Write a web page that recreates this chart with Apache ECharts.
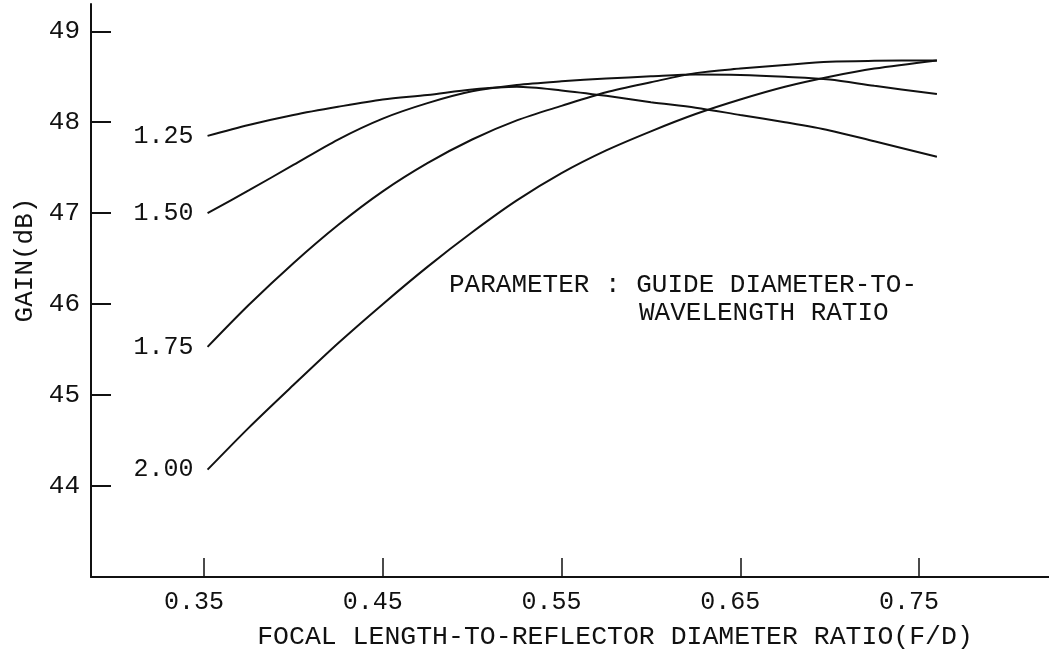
<!DOCTYPE html>
<html>
<head>
<meta charset="utf-8">
<script src="https://cdn.jsdelivr.net/npm/echarts@6/dist/echarts.min.js"></script>
<style>
html,body{margin:0;padding:0;background:#fff;}
#chart{width:1049px;height:653px;}
</style>
</head>
<body>
<div id="chart"></div>
<script>
// F/D ratio sample positions
const fdRatio = [0.352, 0.375, 0.40, 0.425, 0.45, 0.475, 0.50, 0.525, 0.55, 0.575, 0.60, 0.625, 0.65, 0.675, 0.70, 0.725, 0.76];
// Gain (dB) per guide diameter-to-wavelength ratio
const gain125 = [47.85, 47.97, 48.08, 48.17, 48.25, 48.30, 48.36, 48.39, 48.35, 48.29, 48.22, 48.16, 48.08, 48.00, 47.91, 47.79, 47.62];
const gain150 = [47.00, 47.25, 47.53, 47.81, 48.04, 48.21, 48.34, 48.41, 48.45, 48.48, 48.505, 48.525, 48.52, 48.50, 48.47, 48.40, 48.31];
const gain175 = [45.53, 45.99, 46.45, 46.87, 47.24, 47.55, 47.81, 48.02, 48.18, 48.33, 48.44, 48.54, 48.59, 48.63, 48.665, 48.675, 48.68];
const gain200 = [44.18, 44.64, 45.11, 45.57, 46.00, 46.41, 46.79, 47.14, 47.44, 47.69, 47.90, 48.09, 48.25, 48.39, 48.50, 48.59, 48.68];
const seriesNames = ['1.25', '1.50', '1.75', '2.00'];
const xTicks = [0.35, 0.45, 0.55, 0.65, 0.75];
const yTicks = [44, 45, 46, 47, 48, 49];

const FONT = '"Liberation Mono", "DejaVu Sans Mono", monospace';
const INK = '#111';

function buildSeries(name, vals) {
  return {
    type: 'line',
    name: name,
    smooth: 0.3,
    symbol: 'circle',
    symbolSize: 0,
    showSymbol: true,
    itemStyle: { color: INK },
    lineStyle: { color: INK, width: 2 },
    data: fdRatio.map((x, i) => {
      const item = { value: [x, vals[i]] };
      if (i === 0) {
        item.label = {
          show: true, position: 'left', distance: 14,
          formatter: name, fontFamily: FONT, fontSize: 25, color: INK
        };
      }
      return item;
    })
  };
}

const chart = echarts.init(document.getElementById('chart'));
chart.setOption({
  animation: false,
  backgroundColor: '#fff',
  grid: { left: 91, right: 0, top: 4, bottom: 76 },
  xAxis: {
    type: 'value',
    min: 0.2868, max: 0.8227,
    axisLine: { show: true, lineStyle: { color: INK, width: 2 } },
    axisTick: { show: true, inside: true, length: 19, lineStyle: { color: INK, width: 1.5 }, customValues: xTicks },
    axisLabel: {
      customValues: xTicks, formatter: v => v.toFixed(2),
      fontFamily: FONT, fontSize: 25, color: INK, margin: 13, padding: [0, 20, 0, 0]
    },
    splitLine: { show: false }
  },
  yAxis: {
    type: 'value',
    min: 43, max: 49.3, interval: 1,
    axisLine: { show: true, lineStyle: { color: INK, width: 2 } },
    axisTick: { show: true, inside: true, length: 20, lineStyle: { color: INK, width: 2 }, customValues: yTicks },
    axisLabel: {
      customValues: yTicks, formatter: v => String(v),
      fontFamily: FONT, fontSize: 26, color: INK, margin: 11
    },
    splitLine: { show: false }
  },
  series: [
    buildSeries(seriesNames[0], gain125),
    buildSeries(seriesNames[1], gain150),
    buildSeries(seriesNames[2], gain175),
    buildSeries(seriesNames[3], gain200)
  ],
  graphic: [
    { type: 'text', x: 449, y: 285, style: { text: 'PARAMETER : GUIDE DIAMETER-TO-', font: '26px ' + FONT, fill: INK, textAlign: 'left', textVerticalAlign: 'middle' } },
    { type: 'text', x: 639, y: 313, style: { text: 'WAVELENGTH RATIO', font: '26px ' + FONT, fill: INK, textAlign: 'left', textVerticalAlign: 'middle' } },
    { type: 'text', x: 615, y: 637, style: { text: 'FOCAL LENGTH-TO-REFLECTOR DIAMETER RATIO(F/D)', font: '26.5px ' + FONT, fill: INK, textAlign: 'center', textVerticalAlign: 'middle' } },
    { type: 'text', x: 25, y: 260, rotation: Math.PI / 2, style: { text: 'GAIN(dB)', font: '26px ' + FONT, fill: INK, textAlign: 'center', textVerticalAlign: 'middle' } }
  ]
});
</script>
</body>
</html>
